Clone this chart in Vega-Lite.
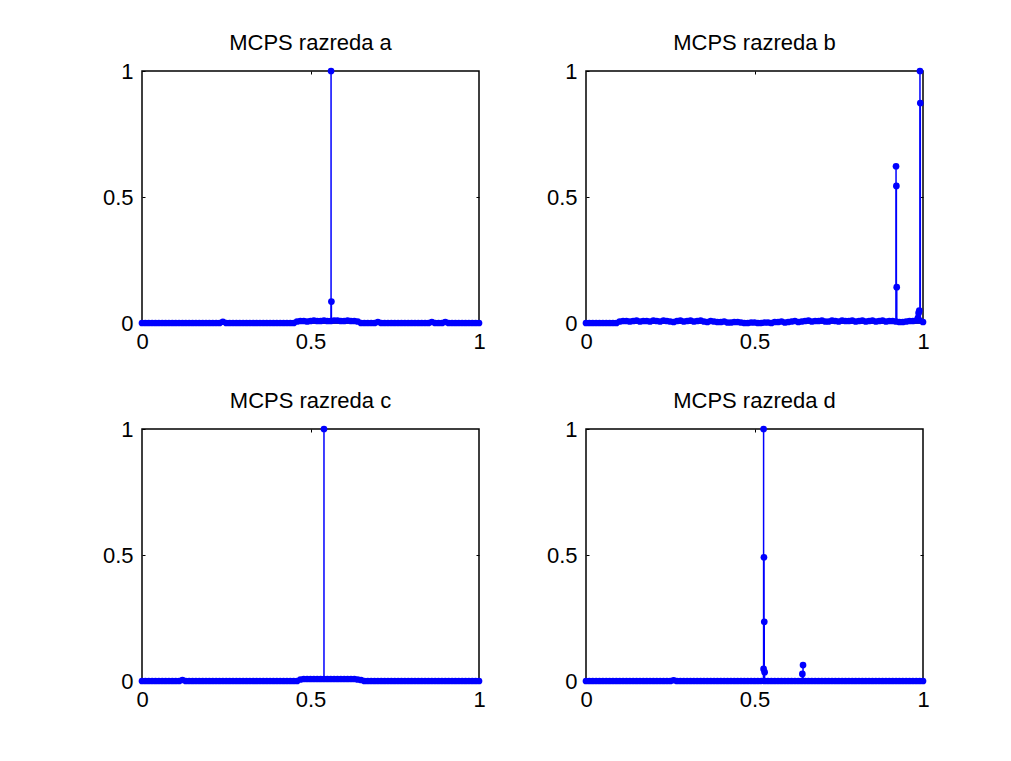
{
  "$schema": "https://vega.github.io/schema/vega-lite/v6.json",
  "padding": {"left": 101, "top": 31, "right": 5, "bottom": 5},
  "background": "white",
  "columns": 2,
  "bounds": "flush",
  "spacing": {"row": 106, "column": 107},
  "datasets": {
    "d": [
      {"p":"a","x":0,"y":0},{"p":"a","x":0.02,"y":0},{"p":"a","x":0.04,"y":0},{"p":"a","x":0.06,"y":0},{"p":"a","x":0.08,"y":0},{"p":"a","x":0.1,"y":0},{"p":"a","x":0.12,"y":0},{"p":"a","x":0.14,"y":0},{"p":"a","x":0.16,"y":0},{"p":"a","x":0.18,"y":0},{"p":"a","x":0.2,"y":0},{"p":"a","x":0.22,"y":0},{"p":"a","x":0.24,"y":0.005},{"p":"a","x":0.26,"y":0},{"p":"a","x":0.28,"y":0},{"p":"a","x":0.3,"y":0},{"p":"a","x":0.32,"y":0},{"p":"a","x":0.34,"y":0},{"p":"a","x":0.36,"y":0},{"p":"a","x":0.38,"y":0},{"p":"a","x":0.4,"y":0},{"p":"a","x":0.42,"y":0},{"p":"a","x":0.44,"y":0},{"p":"a","x":0.46,"y":0.006},{"p":"a","x":0.48,"y":0.008},{"p":"a","x":0.5,"y":0.008},{"p":"a","x":0.52,"y":0.008},{"p":"a","x":0.54,"y":0.01},{"p":"a","x":0.56,"y":0.008},{"p":"a","x":0.58,"y":0.01},{"p":"a","x":0.6,"y":0.008},{"p":"a","x":0.62,"y":0.008},{"p":"a","x":0.64,"y":0.006},{"p":"a","x":0.66,"y":0},{"p":"a","x":0.68,"y":0},{"p":"a","x":0.7,"y":0.004},{"p":"a","x":0.72,"y":0},{"p":"a","x":0.74,"y":0},{"p":"a","x":0.76,"y":0},{"p":"a","x":0.78,"y":0},{"p":"a","x":0.8,"y":0},{"p":"a","x":0.82,"y":0},{"p":"a","x":0.84,"y":0},{"p":"a","x":0.86,"y":0.004},{"p":"a","x":0.88,"y":0},{"p":"a","x":0.9,"y":0.004},{"p":"a","x":0.92,"y":0},{"p":"a","x":0.94,"y":0},{"p":"a","x":0.96,"y":0},{"p":"a","x":0.98,"y":0},{"p":"a","x":1,"y":0},
      {"p":"a","x":0.01,"y":0},{"p":"a","x":0.03,"y":0},{"p":"a","x":0.05,"y":0},{"p":"a","x":0.07,"y":0},{"p":"a","x":0.09,"y":0},{"p":"a","x":0.11,"y":0},{"p":"a","x":0.13,"y":0},{"p":"a","x":0.15,"y":0},{"p":"a","x":0.17,"y":0},{"p":"a","x":0.19,"y":0},{"p":"a","x":0.21,"y":0},{"p":"a","x":0.23,"y":0},{"p":"a","x":0.25,"y":0},{"p":"a","x":0.27,"y":0},{"p":"a","x":0.29,"y":0},{"p":"a","x":0.31,"y":0},{"p":"a","x":0.33,"y":0},{"p":"a","x":0.35,"y":0},{"p":"a","x":0.37,"y":0},{"p":"a","x":0.39,"y":0},{"p":"a","x":0.41,"y":0},{"p":"a","x":0.43,"y":0},{"p":"a","x":0.45,"y":0},{"p":"a","x":0.47,"y":0.008},{"p":"a","x":0.49,"y":0.006},{"p":"a","x":0.51,"y":0.01},{"p":"a","x":0.53,"y":0.008},{"p":"a","x":0.55,"y":0.008},{"p":"a","x":0.57,"y":0.01},{"p":"a","x":0.59,"y":0.008},{"p":"a","x":0.61,"y":0.01},{"p":"a","x":0.63,"y":0.008},{"p":"a","x":0.65,"y":0},{"p":"a","x":0.67,"y":0},{"p":"a","x":0.69,"y":0},{"p":"a","x":0.71,"y":0},{"p":"a","x":0.73,"y":0},{"p":"a","x":0.75,"y":0},{"p":"a","x":0.77,"y":0},{"p":"a","x":0.79,"y":0},{"p":"a","x":0.81,"y":0},{"p":"a","x":0.83,"y":0},{"p":"a","x":0.85,"y":0},{"p":"a","x":0.87,"y":0},{"p":"a","x":0.89,"y":0},{"p":"a","x":0.91,"y":0},{"p":"a","x":0.93,"y":0},{"p":"a","x":0.95,"y":0},{"p":"a","x":0.97,"y":0},{"p":"a","x":0.99,"y":0},
      {"p":"a","x":0.561,"y":1},{"p":"a","x":0.562,"y":0.085},
      {"p":"b","x":0,"y":0},{"p":"b","x":0.02,"y":0},{"p":"b","x":0.04,"y":0},{"p":"b","x":0.06,"y":0},{"p":"b","x":0.08,"y":0},{"p":"b","x":0.1,"y":0.006},{"p":"b","x":0.12,"y":0.008},{"p":"b","x":0.14,"y":0.008},{"p":"b","x":0.16,"y":0.006},{"p":"b","x":0.18,"y":0.008},{"p":"b","x":0.2,"y":0.01},{"p":"b","x":0.22,"y":0.006},{"p":"b","x":0.24,"y":0.008},{"p":"b","x":0.26,"y":0.004},{"p":"b","x":0.28,"y":0.01},{"p":"b","x":0.3,"y":0.008},{"p":"b","x":0.32,"y":0.006},{"p":"b","x":0.34,"y":0.01},{"p":"b","x":0.36,"y":0.004},{"p":"b","x":0.38,"y":0.006},{"p":"b","x":0.4,"y":0.004},{"p":"b","x":0.42,"y":0.002},{"p":"b","x":0.44,"y":0.004},{"p":"b","x":0.46,"y":0.002},{"p":"b","x":0.48,"y":0},{"p":"b","x":0.5,"y":0.002},{"p":"b","x":0.52,"y":0},{"p":"b","x":0.54,"y":0.002},{"p":"b","x":0.56,"y":0.004},{"p":"b","x":0.58,"y":0.006},{"p":"b","x":0.6,"y":0.004},{"p":"b","x":0.62,"y":0.008},{"p":"b","x":0.64,"y":0.006},{"p":"b","x":0.66,"y":0.01},{"p":"b","x":0.68,"y":0.008},{"p":"b","x":0.7,"y":0.01},{"p":"b","x":0.72,"y":0.006},{"p":"b","x":0.74,"y":0.008},{"p":"b","x":0.76,"y":0.01},{"p":"b","x":0.78,"y":0.008},{"p":"b","x":0.8,"y":0.006},{"p":"b","x":0.82,"y":0.01},{"p":"b","x":0.84,"y":0.008},{"p":"b","x":0.86,"y":0.006},{"p":"b","x":0.88,"y":0.01},{"p":"b","x":0.9,"y":0.008},{"p":"b","x":0.92,"y":0.006},{"p":"b","x":0.94,"y":0.004},{"p":"b","x":0.96,"y":0.008},{"p":"b","x":0.98,"y":0.01},{"p":"b","x":1,"y":0.004},
      {"p":"b","x":0.01,"y":0},{"p":"b","x":0.03,"y":0},{"p":"b","x":0.05,"y":0},{"p":"b","x":0.07,"y":0},{"p":"b","x":0.09,"y":0},{"p":"b","x":0.11,"y":0.008},{"p":"b","x":0.13,"y":0.006},{"p":"b","x":0.15,"y":0.01},{"p":"b","x":0.17,"y":0.008},{"p":"b","x":0.19,"y":0.006},{"p":"b","x":0.21,"y":0.008},{"p":"b","x":0.23,"y":0.01},{"p":"b","x":0.25,"y":0.006},{"p":"b","x":0.27,"y":0.008},{"p":"b","x":0.29,"y":0.006},{"p":"b","x":0.31,"y":0.01},{"p":"b","x":0.33,"y":0.008},{"p":"b","x":0.35,"y":0.006},{"p":"b","x":0.37,"y":0.008},{"p":"b","x":0.39,"y":0.004},{"p":"b","x":0.41,"y":0.006},{"p":"b","x":0.43,"y":0.002},{"p":"b","x":0.45,"y":0.004},{"p":"b","x":0.47,"y":0},{"p":"b","x":0.49,"y":0.002},{"p":"b","x":0.51,"y":0},{"p":"b","x":0.53,"y":0.002},{"p":"b","x":0.55,"y":0},{"p":"b","x":0.57,"y":0.004},{"p":"b","x":0.59,"y":0.002},{"p":"b","x":0.61,"y":0.006},{"p":"b","x":0.63,"y":0.004},{"p":"b","x":0.65,"y":0.008},{"p":"b","x":0.67,"y":0.006},{"p":"b","x":0.69,"y":0.008},{"p":"b","x":0.71,"y":0.006},{"p":"b","x":0.73,"y":0.01},{"p":"b","x":0.75,"y":0.006},{"p":"b","x":0.77,"y":0.008},{"p":"b","x":0.79,"y":0.01},{"p":"b","x":0.81,"y":0.008},{"p":"b","x":0.83,"y":0.006},{"p":"b","x":0.85,"y":0.01},{"p":"b","x":0.87,"y":0.008},{"p":"b","x":0.89,"y":0.006},{"p":"b","x":0.91,"y":0.008},{"p":"b","x":0.93,"y":0.004},{"p":"b","x":0.95,"y":0.006},{"p":"b","x":0.97,"y":0.008},{"p":"b","x":0.99,"y":0.01},
      {"p":"b","x":0.92,"y":0.622},{"p":"b","x":0.921,"y":0.544},{"p":"b","x":0.922,"y":0.142},{"p":"b","x":0.991,"y":1},{"p":"b","x":0.992,"y":0.873},{"p":"b","x":0.989,"y":0.049},{"p":"b","x":0.987,"y":0.04},{"p":"b","x":0.985,"y":0.02},
      {"p":"c","x":0,"y":0},{"p":"c","x":0.02,"y":0},{"p":"c","x":0.04,"y":0},{"p":"c","x":0.06,"y":0},{"p":"c","x":0.08,"y":0},{"p":"c","x":0.1,"y":0},{"p":"c","x":0.12,"y":0.004},{"p":"c","x":0.14,"y":0},{"p":"c","x":0.16,"y":0},{"p":"c","x":0.18,"y":0},{"p":"c","x":0.2,"y":0},{"p":"c","x":0.22,"y":0},{"p":"c","x":0.24,"y":0},{"p":"c","x":0.26,"y":0},{"p":"c","x":0.28,"y":0},{"p":"c","x":0.3,"y":0},{"p":"c","x":0.32,"y":0},{"p":"c","x":0.34,"y":0},{"p":"c","x":0.36,"y":0},{"p":"c","x":0.38,"y":0},{"p":"c","x":0.4,"y":0},{"p":"c","x":0.42,"y":0},{"p":"c","x":0.44,"y":0},{"p":"c","x":0.46,"y":0},{"p":"c","x":0.48,"y":0.008},{"p":"c","x":0.5,"y":0.008},{"p":"c","x":0.52,"y":0.008},{"p":"c","x":0.54,"y":0.008},{"p":"c","x":0.56,"y":0.008},{"p":"c","x":0.58,"y":0.008},{"p":"c","x":0.6,"y":0.008},{"p":"c","x":0.62,"y":0.008},{"p":"c","x":0.64,"y":0.006},{"p":"c","x":0.66,"y":0},{"p":"c","x":0.68,"y":0},{"p":"c","x":0.7,"y":0},{"p":"c","x":0.72,"y":0},{"p":"c","x":0.74,"y":0},{"p":"c","x":0.76,"y":0},{"p":"c","x":0.78,"y":0},{"p":"c","x":0.8,"y":0},{"p":"c","x":0.82,"y":0},{"p":"c","x":0.84,"y":0},{"p":"c","x":0.86,"y":0},{"p":"c","x":0.88,"y":0},{"p":"c","x":0.9,"y":0},{"p":"c","x":0.92,"y":0},{"p":"c","x":0.94,"y":0},{"p":"c","x":0.96,"y":0},{"p":"c","x":0.98,"y":0},{"p":"c","x":1,"y":0},
      {"p":"c","x":0.01,"y":0},{"p":"c","x":0.03,"y":0},{"p":"c","x":0.05,"y":0},{"p":"c","x":0.07,"y":0},{"p":"c","x":0.09,"y":0},{"p":"c","x":0.11,"y":0},{"p":"c","x":0.13,"y":0},{"p":"c","x":0.15,"y":0},{"p":"c","x":0.17,"y":0},{"p":"c","x":0.19,"y":0},{"p":"c","x":0.21,"y":0},{"p":"c","x":0.23,"y":0},{"p":"c","x":0.25,"y":0},{"p":"c","x":0.27,"y":0},{"p":"c","x":0.29,"y":0},{"p":"c","x":0.31,"y":0},{"p":"c","x":0.33,"y":0},{"p":"c","x":0.35,"y":0},{"p":"c","x":0.37,"y":0},{"p":"c","x":0.39,"y":0},{"p":"c","x":0.41,"y":0},{"p":"c","x":0.43,"y":0},{"p":"c","x":0.45,"y":0},{"p":"c","x":0.47,"y":0.006},{"p":"c","x":0.49,"y":0.008},{"p":"c","x":0.51,"y":0.008},{"p":"c","x":0.53,"y":0.008},{"p":"c","x":0.55,"y":0.008},{"p":"c","x":0.57,"y":0.008},{"p":"c","x":0.59,"y":0.008},{"p":"c","x":0.61,"y":0.008},{"p":"c","x":0.63,"y":0.008},{"p":"c","x":0.65,"y":0.004},{"p":"c","x":0.67,"y":0},{"p":"c","x":0.69,"y":0},{"p":"c","x":0.71,"y":0},{"p":"c","x":0.73,"y":0},{"p":"c","x":0.75,"y":0},{"p":"c","x":0.77,"y":0},{"p":"c","x":0.79,"y":0},{"p":"c","x":0.81,"y":0},{"p":"c","x":0.83,"y":0},{"p":"c","x":0.85,"y":0},{"p":"c","x":0.87,"y":0},{"p":"c","x":0.89,"y":0},{"p":"c","x":0.91,"y":0},{"p":"c","x":0.93,"y":0},{"p":"c","x":0.95,"y":0},{"p":"c","x":0.97,"y":0},{"p":"c","x":0.99,"y":0},
      {"p":"c","x":0.54,"y":1},
      {"p":"d","x":0,"y":0},{"p":"d","x":0.02,"y":0},{"p":"d","x":0.04,"y":0},{"p":"d","x":0.06,"y":0},{"p":"d","x":0.08,"y":0},{"p":"d","x":0.1,"y":0},{"p":"d","x":0.12,"y":0},{"p":"d","x":0.14,"y":0},{"p":"d","x":0.16,"y":0},{"p":"d","x":0.18,"y":0},{"p":"d","x":0.2,"y":0},{"p":"d","x":0.22,"y":0},{"p":"d","x":0.24,"y":0},{"p":"d","x":0.26,"y":0.003},{"p":"d","x":0.28,"y":0},{"p":"d","x":0.3,"y":0},{"p":"d","x":0.32,"y":0},{"p":"d","x":0.34,"y":0},{"p":"d","x":0.36,"y":0},{"p":"d","x":0.38,"y":0},{"p":"d","x":0.4,"y":0},{"p":"d","x":0.42,"y":0},{"p":"d","x":0.44,"y":0},{"p":"d","x":0.46,"y":0},{"p":"d","x":0.48,"y":0},{"p":"d","x":0.5,"y":0},{"p":"d","x":0.52,"y":0},{"p":"d","x":0.54,"y":0},{"p":"d","x":0.56,"y":0},{"p":"d","x":0.58,"y":0},{"p":"d","x":0.6,"y":0},{"p":"d","x":0.62,"y":0},{"p":"d","x":0.64,"y":0},{"p":"d","x":0.66,"y":0},{"p":"d","x":0.68,"y":0},{"p":"d","x":0.7,"y":0},{"p":"d","x":0.72,"y":0},{"p":"d","x":0.74,"y":0},{"p":"d","x":0.76,"y":0},{"p":"d","x":0.78,"y":0},{"p":"d","x":0.8,"y":0},{"p":"d","x":0.82,"y":0},{"p":"d","x":0.84,"y":0},{"p":"d","x":0.86,"y":0},{"p":"d","x":0.88,"y":0},{"p":"d","x":0.9,"y":0},{"p":"d","x":0.92,"y":0},{"p":"d","x":0.94,"y":0},{"p":"d","x":0.96,"y":0},{"p":"d","x":0.98,"y":0},{"p":"d","x":1,"y":0},
      {"p":"d","x":0.01,"y":0},{"p":"d","x":0.03,"y":0},{"p":"d","x":0.05,"y":0},{"p":"d","x":0.07,"y":0},{"p":"d","x":0.09,"y":0},{"p":"d","x":0.11,"y":0},{"p":"d","x":0.13,"y":0},{"p":"d","x":0.15,"y":0},{"p":"d","x":0.17,"y":0},{"p":"d","x":0.19,"y":0},{"p":"d","x":0.21,"y":0},{"p":"d","x":0.23,"y":0},{"p":"d","x":0.25,"y":0},{"p":"d","x":0.27,"y":0},{"p":"d","x":0.29,"y":0},{"p":"d","x":0.31,"y":0},{"p":"d","x":0.33,"y":0},{"p":"d","x":0.35,"y":0},{"p":"d","x":0.37,"y":0},{"p":"d","x":0.39,"y":0},{"p":"d","x":0.41,"y":0},{"p":"d","x":0.43,"y":0},{"p":"d","x":0.45,"y":0},{"p":"d","x":0.47,"y":0},{"p":"d","x":0.49,"y":0},{"p":"d","x":0.51,"y":0},{"p":"d","x":0.53,"y":0},{"p":"d","x":0.55,"y":0},{"p":"d","x":0.57,"y":0},{"p":"d","x":0.59,"y":0},{"p":"d","x":0.61,"y":0},{"p":"d","x":0.63,"y":0},{"p":"d","x":0.65,"y":0},{"p":"d","x":0.67,"y":0},{"p":"d","x":0.69,"y":0},{"p":"d","x":0.71,"y":0},{"p":"d","x":0.73,"y":0},{"p":"d","x":0.75,"y":0},{"p":"d","x":0.77,"y":0},{"p":"d","x":0.79,"y":0},{"p":"d","x":0.81,"y":0},{"p":"d","x":0.83,"y":0},{"p":"d","x":0.85,"y":0},{"p":"d","x":0.87,"y":0},{"p":"d","x":0.89,"y":0},{"p":"d","x":0.91,"y":0},{"p":"d","x":0.93,"y":0},{"p":"d","x":0.95,"y":0},{"p":"d","x":0.97,"y":0},{"p":"d","x":0.99,"y":0},
      {"p":"d","x":0.527,"y":1},{"p":"d","x":0.528,"y":0.491},{"p":"d","x":0.529,"y":0.235},{"p":"d","x":0.527,"y":0.048},{"p":"d","x":0.53,"y":0.035},{"p":"d","x":0.644,"y":0.063},{"p":"d","x":0.642,"y":0.028}
    ]
  },
  "data": {"name": "d"},
  "concat": [
    {
      "title": "MCPS razreda a",
      "width": 337, "height": 252,
      "transform": [{"filter": "datum.p === 'a'"}],
      "resolve": {"axis": {"x": "independent", "y": "independent"}},
      "layer": [
        {"mark": {"type": "rule", "color": "#0000ff", "strokeWidth": 1.5},
         "encoding": {
           "x": {"field": "x", "type": "quantitative", "scale": {"domain": [0, 1], "nice": false, "zero": false}, "axis": {"orient": "bottom", "values": [0, 0.5, 1], "format": "~g", "title": null, "tickSize": -3, "labelPadding": 11}},
           "y": {"field": "y", "type": "quantitative", "scale": {"domain": [0, 1], "nice": false}, "axis": {"orient": "left", "values": [0, 0.5, 1], "format": "~g", "title": null, "tickSize": -3, "labelPadding": 12}},
           "y2": {"datum": 0}}},
        {"mark": {"type": "point", "filled": true, "color": "#0000ff", "size": 45, "opacity": 1},
         "encoding": {
           "x": {"field": "x", "type": "quantitative", "axis": {"orient": "top", "values": [0.5], "labels": false, "title": null, "tickSize": -3}},
           "y": {"field": "y", "type": "quantitative", "axis": {"orient": "right", "values": [0.5], "labels": false, "title": null, "tickSize": -3}}}}
      ]
    },
    {
      "title": "MCPS razreda b",
      "width": 337, "height": 252,
      "transform": [{"filter": "datum.p === 'b'"}],
      "resolve": {"axis": {"x": "independent", "y": "independent"}},
      "layer": [
        {"mark": {"type": "rule", "color": "#0000ff", "strokeWidth": 1.5},
         "encoding": {
           "x": {"field": "x", "type": "quantitative", "scale": {"domain": [0, 1], "nice": false, "zero": false}, "axis": {"orient": "bottom", "values": [0, 0.5, 1], "format": "~g", "title": null, "tickSize": -3, "labelPadding": 11}},
           "y": {"field": "y", "type": "quantitative", "scale": {"domain": [0, 1], "nice": false}, "axis": {"orient": "left", "values": [0, 0.5, 1], "format": "~g", "title": null, "tickSize": -3, "labelPadding": 12}},
           "y2": {"datum": 0}}},
        {"mark": {"type": "point", "filled": true, "color": "#0000ff", "size": 45, "opacity": 1},
         "encoding": {
           "x": {"field": "x", "type": "quantitative", "axis": {"orient": "top", "values": [0.5], "labels": false, "title": null, "tickSize": -3}},
           "y": {"field": "y", "type": "quantitative", "axis": {"orient": "right", "values": [0.5], "labels": false, "title": null, "tickSize": -3}}}}
      ]
    },
    {
      "title": "MCPS razreda c",
      "width": 337, "height": 252,
      "transform": [{"filter": "datum.p === 'c'"}],
      "resolve": {"axis": {"x": "independent", "y": "independent"}},
      "layer": [
        {"mark": {"type": "rule", "color": "#0000ff", "strokeWidth": 1.5},
         "encoding": {
           "x": {"field": "x", "type": "quantitative", "scale": {"domain": [0, 1], "nice": false, "zero": false}, "axis": {"orient": "bottom", "values": [0, 0.5, 1], "format": "~g", "title": null, "tickSize": -3, "labelPadding": 11}},
           "y": {"field": "y", "type": "quantitative", "scale": {"domain": [0, 1], "nice": false}, "axis": {"orient": "left", "values": [0, 0.5, 1], "format": "~g", "title": null, "tickSize": -3, "labelPadding": 12}},
           "y2": {"datum": 0}}},
        {"mark": {"type": "point", "filled": true, "color": "#0000ff", "size": 45, "opacity": 1},
         "encoding": {
           "x": {"field": "x", "type": "quantitative", "axis": {"orient": "top", "values": [0.5], "labels": false, "title": null, "tickSize": -3}},
           "y": {"field": "y", "type": "quantitative", "axis": {"orient": "right", "values": [0.5], "labels": false, "title": null, "tickSize": -3}}}}
      ]
    },
    {
      "title": "MCPS razreda d",
      "width": 337, "height": 252,
      "transform": [{"filter": "datum.p === 'd'"}],
      "resolve": {"axis": {"x": "independent", "y": "independent"}},
      "layer": [
        {"mark": {"type": "rule", "color": "#0000ff", "strokeWidth": 1.5},
         "encoding": {
           "x": {"field": "x", "type": "quantitative", "scale": {"domain": [0, 1], "nice": false, "zero": false}, "axis": {"orient": "bottom", "values": [0, 0.5, 1], "format": "~g", "title": null, "tickSize": -3, "labelPadding": 11}},
           "y": {"field": "y", "type": "quantitative", "scale": {"domain": [0, 1], "nice": false}, "axis": {"orient": "left", "values": [0, 0.5, 1], "format": "~g", "title": null, "tickSize": -3, "labelPadding": 12}},
           "y2": {"datum": 0}}},
        {"mark": {"type": "point", "filled": true, "color": "#0000ff", "size": 45, "opacity": 1},
         "encoding": {
           "x": {"field": "x", "type": "quantitative", "axis": {"orient": "top", "values": [0.5], "labels": false, "title": null, "tickSize": -3}},
           "y": {"field": "y", "type": "quantitative", "axis": {"orient": "right", "values": [0.5], "labels": false, "title": null, "tickSize": -3}}}}
      ]
    }
  ],
  "config": {
    "view": {"stroke": "black", "strokeWidth": 1.5},
    "axis": {
      "domain": false, "grid": false, "ticks": true, "tickColor": "black", "tickWidth": 1,
      "labelFont": "Liberation Sans", "labelFontSize": 22, "labelColor": "black",
      "labelFlush": false, "labelOverlap": false, "zindex": 1
    },
    "title": {"font": "Liberation Sans", "fontSize": 22, "fontWeight": "normal", "color": "black", "offset": 5}
  }
}
